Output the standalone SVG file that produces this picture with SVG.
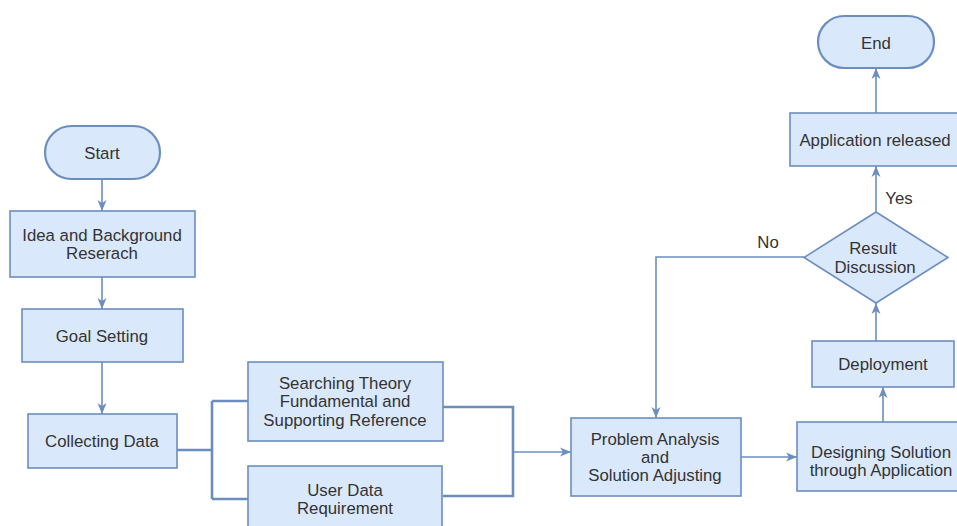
<svg xmlns="http://www.w3.org/2000/svg" width="957" height="526" viewBox="0 0 957 526">
<defs>
<style>
.n{fill:#dae8fc;stroke:#6c8ebf;stroke-width:1.6}
.t{stroke-width:2.2}
.c{fill:none;stroke:#6c8ebf;stroke-width:1.6}
.b{fill:none;stroke:#6c8ebf;stroke-width:2.6}
text{font-family:"Liberation Sans",Arial,sans-serif;font-size:16.8px;fill:#333;text-anchor:middle;dominant-baseline:central}
</style>
<marker id="a" markerUnits="userSpaceOnUse" markerWidth="12" markerHeight="10" refX="11" refY="5" orient="auto">
<path d="M0,0.5 L11,5 L0,9.5 L3,5 Z" fill="#6c8ebf"/>
</marker>
</defs>
<rect width="957" height="526" fill="#fff"/>
<g id="connectors">
<path class="c" d="M102,180 V211" marker-end="url(#a)"/>
<path class="c" d="M102,277 V309" marker-end="url(#a)"/>
<path class="c" d="M102,362 V414" marker-end="url(#a)"/>
<path class="b" d="M177,450 H212 M212,401 V499 M212,401 H248 M212,499 H248"/>
<path class="b" d="M443,407 H513 V496 H443"/>
<path class="c" d="M513,452 H571" marker-end="url(#a)"/>
<path class="c" d="M741,457 H797" marker-end="url(#a)"/>
<path class="c" d="M883,422 V387" marker-end="url(#a)"/>
<path class="c" d="M876,341 V303" marker-end="url(#a)"/>
<path class="c" d="M876,212 V166" marker-end="url(#a)"/>
<path class="c" d="M876,113 V68" marker-end="url(#a)"/>
<path class="c" d="M804,257 H656 V418" marker-end="url(#a)"/>
<text x="768" y="242">No</text>
<text x="899" y="198">Yes</text>
</g>
<g id="start"><rect class="n t" x="45" y="126" width="115" height="53" rx="26.5"/><text x="102" y="153">Start</text></g>
<g id="idea"><rect class="n" x="10" y="211" width="185" height="66"/><text x="102" y="235">Idea and Background</text><text x="102" y="253">Reserach</text></g>
<g id="goal"><rect class="n" x="22" y="309" width="161" height="53"/><text x="102" y="336">Goal Setting</text></g>
<g id="collecting"><rect class="n" x="28" y="414" width="149" height="54"/><text x="102" y="441">Collecting Data</text></g>
<g id="searching"><rect class="n" x="248" y="362" width="195" height="79"/><text x="345" y="383">Searching Theory</text><text x="345" y="401.5">Fundamental and</text><text x="345" y="420">Supporting Reference</text></g>
<g id="userdata"><rect class="n" x="248" y="466" width="194" height="80"/><text x="345" y="490">User Data</text><text x="345" y="508.5">Requirement</text></g>
<g id="problem"><rect class="n" x="571" y="418" width="170" height="78"/><text x="655" y="439">Problem Analysis</text><text x="655" y="457">and</text><text x="655" y="475">Solution Adjusting</text></g>
<g id="designing"><rect class="n" x="797" y="422" width="168" height="69"/><text x="881" y="452">Designing Solution</text><text x="881" y="470">through Application</text></g>
<g id="deployment"><rect class="n" x="812" y="341" width="142" height="46"/><text x="883" y="364">Deployment</text></g>
<g id="result"><path class="n" d="M876,212 L948,257.5 L876,303 L804,257.5 Z"/><text x="873" y="248">Result</text><text x="875" y="267">Discussion</text></g>
<g id="released"><rect class="n" x="790" y="113" width="170" height="53"/><text x="875" y="140">Application released</text></g>
<g id="end"><rect class="n t" x="818" y="16" width="116" height="52" rx="26"/><text x="876" y="43">End</text></g>
</svg>
